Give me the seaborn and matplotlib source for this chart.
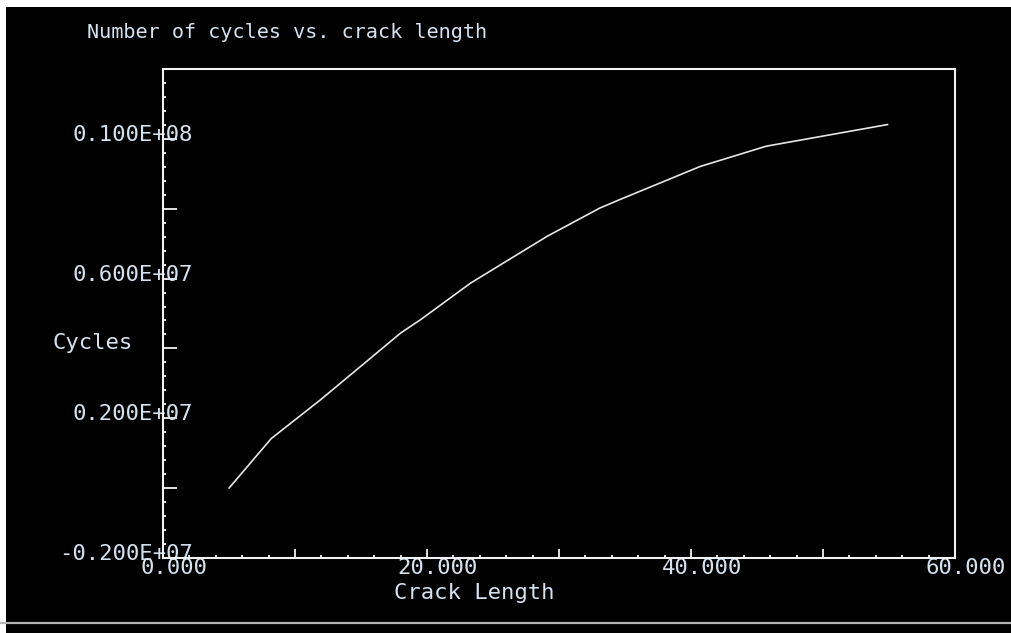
import numpy as np
import pandas as pd
import matplotlib
matplotlib.use("Agg")
import matplotlib.pyplot as plt
import matplotlib.transforms as mtransforms
from matplotlib.patches import Rectangle
from matplotlib.lines import Line2D
from matplotlib.ticker import MultipleLocator
import seaborn as sns

# Crack growth history: crack length vs. accumulated load cycles
crack_length = [5.0, 8.2, 11.9, 15.4, 18.0, 19.5, 23.3, 29.1, 33.1, 34.6, 40.7, 45.7, 54.9]
cycles = [0.0, 1.42e6, 2.52e6, 3.62e6, 4.44e6, 4.82e6, 5.87e6, 7.21e6, 8.02e6, 8.26e6,
          9.21e6, 9.79e6, 10.41e6]

x_tick_values = [0, 20, 40, 60]
x_tick_labels = ["0.000", "20.000", "40.000", "60.000"]
y_tick_values = [-2e6, 2e6, 6e6, 1e7]
y_tick_labels = ["-0.200E+07", "0.200E+07", "0.600E+07", "0.100E+08"]

title_text = "Number of cycles vs. crack length"
x_label = "Crack Length"
y_label = "Cycles"

df = pd.DataFrame({"crack_length": crack_length, "cycles": cycles})

sns.set_theme(style="dark")
plt.rcParams["font.family"] = ["DejaVu Sans Mono", "DejaVu Sans"]

TEXT = "#d4e2f0"
FRAME = "#f2f2f2"
FS = 16

fig = plt.figure(figsize=(10.11, 6.33), dpi=100, facecolor="black")
ax = fig.add_axes([163 / 1011, 1 - 558 / 633, 792 / 1011, 489 / 633])
ax.set_facecolor("black")

sns.lineplot(data=df, x="crack_length", y="cycles", ax=ax, sort=False,
             estimator=None, color="#e6e6e6", linewidth=1.2)

ax.set_xlim(0, 60)
ax.set_ylim(-2e6, 1.2e7)
ax.grid(False)

for side in ["left", "bottom", "top", "right"]:
    ax.spines[side].set_visible(True)
    ax.spines[side].set_color(FRAME)
    ax.spines[side].set_linewidth(1.5)

# Major ticks every 10 / 2e6, labelled at every other one; minor ticks between
xmaj = list(np.arange(0, 61, 10))
ymaj = list(np.arange(-2e6, 1.2e7 + 1, 2e6))
ax.set_xticks(xmaj)
ax.set_xticklabels([x_tick_labels[x_tick_values.index(v)] if v in x_tick_values else ""
                    for v in xmaj])
ax.set_yticks(ymaj)
ax.set_yticklabels([y_tick_labels[y_tick_values.index(v)] if v in y_tick_values else ""
                    for v in ymaj])
ax.xaxis.set_minor_locator(MultipleLocator(2))
ax.yaxis.set_minor_locator(MultipleLocator(4e5))

ax.tick_params(which="both", bottom=True, left=True, top=False, right=False)
ax.tick_params(axis="x", which="major", direction="in", length=6.5, width=1.3,
               color=FRAME, labelcolor=TEXT, labelsize=FS, pad=0)
ax.tick_params(axis="x", which="minor", direction="in", length=2.2, width=1.3,
               color=FRAME)
ax.tick_params(axis="y", which="major", direction="in", length=10, width=1.3,
               color=FRAME, labelcolor=TEXT, labelsize=FS, pad=-21.6)
ax.tick_params(axis="y", which="minor", direction="in", length=2.5, width=1.3,
               color=FRAME)

shift_x = mtransforms.ScaledTranslation(0.11, 0.0, fig.dpi_scale_trans)
for lab in ax.get_xticklabels():
    lab.set_transform(lab.get_transform() + shift_x)
shift_y = mtransforms.ScaledTranslation(0.0, 0.06, fig.dpi_scale_trans)
for lab in ax.get_yticklabels():
    lab.set_transform(lab.get_transform() + shift_y)

ax.set_xlabel(x_label, color=TEXT, fontsize=FS)
ax.xaxis.set_label_coords(0.3927, -0.0716)
ax.xaxis.label.set_verticalalignment("center")
ax.set_ylabel(y_label, color=TEXT, fontsize=FS, rotation=0, ha="left", va="center")
ax.yaxis.set_label_coords(-0.139, 0.44)

fig.text(87 / 1011, 1 - 33 / 633, title_text, color=TEXT, fontsize=14.5,
         ha="left", va="center")

# Window border: white strips on the top and left, grey rule near the bottom
fig.patches.append(Rectangle((0, 1 - 7 / 633), 1, 7 / 633, transform=fig.transFigure,
                             facecolor="white", edgecolor="none"))
fig.patches.append(Rectangle((0, 0), 6 / 1011, 1, transform=fig.transFigure,
                             facecolor="white", edgecolor="none"))
fig.lines.append(Line2D([0, 1], [1 - 622.5 / 633] * 2, transform=fig.transFigure,
                        color="#b4b4b4", linewidth=1.6))

fig.savefig("out.png", dpi=100, facecolor="black")
